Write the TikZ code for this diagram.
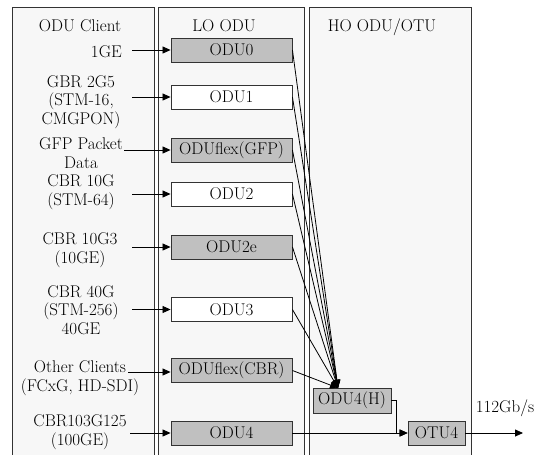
\documentclass[tikz,border=0pt]{standalone}
\usepackage{fontspec}
\usetikzlibrary{arrows.meta}
\definecolor{panelfill}{HTML}{F7F7F7}
\definecolor{boxgrey}{HTML}{C0C0C0}
\definecolor{edgecol}{HTML}{333333}
\definecolor{txt}{HTML}{000000}
\begin{document}
\begin{tikzpicture}[x=1pt,y=-1pt,
  every node/.style={text=txt},
  txtfont/.style={font=\fontsize{17}{18.5}\selectfont},
  panel/.style={draw=edgecol,line width=1pt,fill=panelfill},
  lobox/.style={draw=edgecol,line width=0.9pt,inner sep=0pt,minimum width=121pt,minimum height=24pt,txtfont},
  greybox/.style={lobox,fill=boxgrey},
  whitebox/.style={lobox,fill=white},
  clienttext/.style={txtfont,align=center,inner sep=0pt},
  arr/.style={draw=black,line width=0.8pt,-{Triangle[length=8pt,width=7pt]}}]
\useasboundingbox (0,0) rectangle (541,455);
% panels
\path[panel] (12,7) rectangle (154,462);
\path[panel] (158,7) rectangle (304,462);
\path[panel] (309,7) rectangle (471,462);
% titles
\node[txtfont,anchor=base,inner sep=0pt] (t1) at (80,31) {ODU Client};
\node[txtfont,anchor=base,inner sep=0pt] (t2) at (224,31) {LO ODU};
\node[txtfont,anchor=base,inner sep=0pt] (t3) at (382,31) {HO ODU/OTU};
% LO ODU boxes
\node[greybox]  (odu0)  at (231.5,50)   {ODU0};
\node[whitebox] (odu1)  at (231.5,97)   {ODU1};
\node[greybox]  (flexg) at (231.5,150)  {ODUflex(GFP)};
\node[whitebox] (odu2)  at (231.5,194)  {ODU2};
\node[greybox]  (odu2e) at (231.5,247)  {ODU2e};
\node[whitebox] (odu3)  at (231.5,309.5){ODU3};
\node[greybox]  (flexc) at (231.5,370.5){ODUflex(CBR)};
\node[greybox]  (odu4)  at (231.5,433)  {ODU4};
% HO boxes
\node[lobox,fill=boxgrey,minimum width=78pt,minimum height=25pt] (odu4h) at (352,400.5) {ODU4(H)};
\node[lobox,fill=boxgrey,minimum width=57pt,minimum height=24pt] (otu4) at (436.5,433) {OTU4};
% client texts
\node[txtfont,anchor=base east,inner sep=0pt] (c1) at (122,57) {1GE};
\node[clienttext] (c2) at (81,102) {GBR 2G5\\(STM-16,\\CMGPON)};
\node[clienttext] (c3) at (81,153) {GFP Packet\\Data};
\node[clienttext] (c4) at (81,192) {CBR 10G\\(STM-64)};
\node[clienttext] (c5) at (80,250) {CBR 10G3\\(10GE)};
\node[clienttext] (c6) at (81,310) {CBR 40G\\(STM-256)\\40GE};
\node[clienttext] (c7) at (80,378) {Other Clients\\(FCxG, HD-SDI)};
\node[clienttext] (c8) at (80,432) {CBR103G125\\(100GE)};
% arrow start points
\coordinate (s1) at (132,50);
\coordinate (s2) at (132,97);
\coordinate (s3) at (124,150);
\coordinate (s4) at (132,194);
\coordinate (s5) at (132,247);
\coordinate (s6) at (132,309.5);
\coordinate (s7) at (128,372);
\coordinate (s8) at (130,433);
\draw[arr] (s1) -- (s1 -| odu0.west);
\draw[arr] (s2) -- (s2 -| odu1.west);
\draw[arr] (s3) -- (s3 -| flexg.west);
\draw[arr] (s4) -- (s4 -| odu2.west);
\draw[arr] (s5) -- (s5 -| odu2e.west);
\draw[arr] (s6) -- (s6 -| odu3.west);
\draw[arr] (s7) -- (s7 -| flexc.west);
\draw[arr] (s8) -- (s8 -| odu4.west);
% multiplexing into ODU4(H)
\coordinate (hin) at (338,388);
\foreach \b in {odu0,odu1,flexg,odu2,odu2e,odu3,flexc}
  \draw[arr] (\b.east) -- (hin);
% to OTU4
\draw[arr] (odu4h.east) -- ++(5,0) |- (otu4.west);
\draw[arr] (odu4.east) -- (otu4.west);
\coordinate (out) at (523,433);
\draw[arr] (otu4.east) -- (out);
\node[txtfont,anchor=base,inner sep=0pt] (rate) at (505,412) {112Gb/s};
\end{tikzpicture}
\end{document}
